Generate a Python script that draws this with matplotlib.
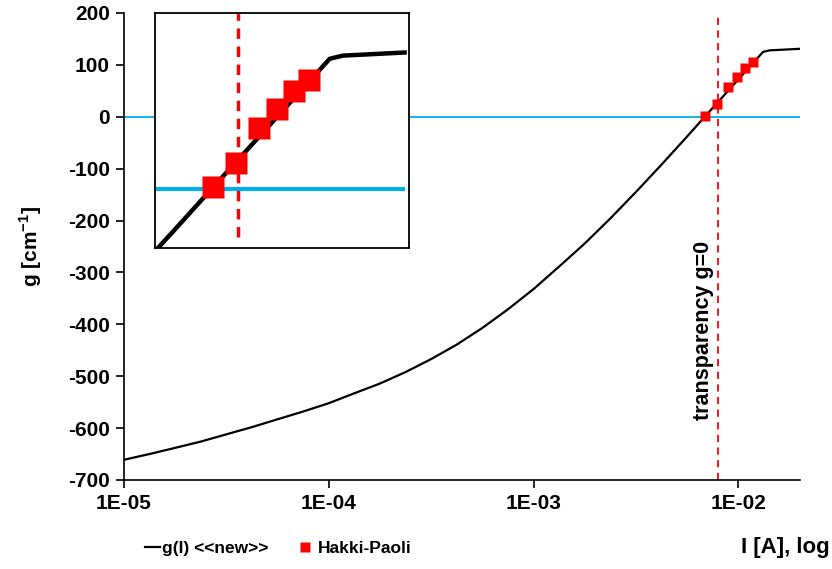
import matplotlib
matplotlib.use("Agg")
import matplotlib.pyplot as plt
from matplotlib.lines import Line2D
from matplotlib.ticker import FixedLocator, FuncFormatter, NullLocator

plt.rcParams["font.family"] = ["Liberation Sans", "DejaVu Sans"]
plt.rcParams["font.weight"] = "bold"
plt.rcParams["axes.unicode_minus"] = False
plt.rcParams["mathtext.fontset"] = "custom"
plt.rcParams["mathtext.rm"] = "Liberation Sans"
plt.rcParams["mathtext.bf"] = "Liberation Sans:bold"

# g(I) curve (1/8 decade steps)
curve_I = [1.00e-5, 1.33e-5, 1.78e-5, 2.37e-5, 3.16e-5, 4.22e-5, 5.62e-5, 7.50e-5,
           1.00e-4, 1.33e-4, 1.78e-4, 2.37e-4, 3.16e-4, 4.22e-4, 5.62e-4, 7.50e-4,
           1.00e-3, 1.33e-3, 1.78e-3, 2.37e-3, 3.16e-3, 4.22e-3, 5.62e-3, 6.89e-3,
           1.00e-2, 1.32e-2, 1.42e-2, 2.00e-2]
curve_g = [-661, -650, -638, -626, -612, -598, -583, -568,
           -552, -533, -514, -492, -467, -439, -407, -371,
           -332, -289, -244, -196, -145, -92, -38, 1,
           72, 125, 128, 131]

# Hakki-Paoli measurements
hp_I = [6.89e-3, 7.86e-3, 8.89e-3, 9.85e-3, 1.081e-2, 1.178e-2]
hp_g = [2, 25, 58, 77, 94, 105]

transparency_I = 7.94e-3
y_ticks = [200, 100, 0, -100, -200, -300, -400, -500, -600, -700]
x_ticks = [1e-5, 1e-4, 1e-3, 1e-2]

BLUE = "#00B0F0"
RED = "#FF0000"

fig = plt.figure(figsize=(8.32, 5.69), dpi=100)
ax = fig.add_axes([124 / 832, 89 / 569, 676 / 832, 467 / 569])

ax.hlines(0, 1e-5, 2e-2, color=BLUE, lw=1.3, zorder=1)
ax.axvline(transparency_I, color=RED, lw=1.3, ls=(0, (4, 3)), zorder=2)
ax.plot(curve_I, curve_g, color="black", lw=1.6, zorder=3)
ax.plot(hp_I, hp_g, ls="none", marker="s", ms=7.5, mfc=RED, mec="none", zorder=4)

ax.set_xscale("log")
ax.set_xlim(1e-5, 2e-2)
ax.set_ylim(-700, 200)
ax.xaxis.set_major_locator(FixedLocator(x_ticks))
ax.xaxis.set_minor_locator(NullLocator())
ax.xaxis.set_major_formatter(FuncFormatter(lambda v, p: f"{v:.0E}"))
ax.set_yticks(y_ticks)
ax.tick_params(direction="out", length=6, width=1.2, labelsize=15, pad=4)
for s in ("top", "right"):
    ax.spines[s].set_visible(False)
for s in ("left", "bottom"):
    ax.spines[s].set_linewidth(1.2)
ax.set_ylabel(r"g [cm$^{\mathbf{-1}}$]", fontsize=15, fontweight="bold", labelpad=17)

ax.text(6.75e-3, -411, "transparency g=0", rotation=90, ha="center", va="center",
        fontsize=15.5, fontweight="bold")

# inset zoom around transparency
ins = fig.add_axes([155 / 832, 321 / 569, 254 / 832, 235 / 569])
ins.hlines(0, 5e-3, 2e-2, color=BLUE, lw=3, zorder=1)
ins.axvline(transparency_I, ymin=0.047, color=RED, lw=2.5, ls=(0, (3, 2.2)), zorder=2)
ins.plot(curve_I, curve_g, color="black", lw=3.2, zorder=3)
ins.plot(hp_I, hp_g, ls="none", marker="s", ms=16, mfc=RED, mec="none", zorder=4)
ins.set_xscale("log")
ins.set_xlim(5e-3, 2.05e-2)
ins.set_ylim(-57, 169)
ins.xaxis.set_major_locator(NullLocator())
ins.xaxis.set_minor_locator(NullLocator())
ins.set_yticks([])
for s in ins.spines.values():
    s.set_linewidth(1.3)

# bottom legend, one entry at a time so each sits where it does in the original
leg_y = 1 - 548 / 569
line_h = Line2D([], [], color="black", lw=1.6)
mark_h = Line2D([], [], ls="none", marker="s", ms=7, mfc=RED, mec="none")
fig.legend([line_h], ["g(I) <<new>>"], loc="center left", bbox_to_anchor=(145 / 832, leg_y),
           frameon=False, fontsize=12.5, handlelength=0.85, handletextpad=0.15,
           borderpad=0, borderaxespad=0)
fig.legend([mark_h], ["Hakki-Paoli"], loc="center left", bbox_to_anchor=(298 / 832, leg_y),
           frameon=False, fontsize=12.5, handlelength=0.85, handletextpad=0.3,
           borderpad=0, borderaxespad=0)
fig.text(830 / 832, leg_y, "I [A], log", ha="right", va="center",
         fontsize=16, fontweight="bold")

fig.savefig("out.png", dpi=100)
